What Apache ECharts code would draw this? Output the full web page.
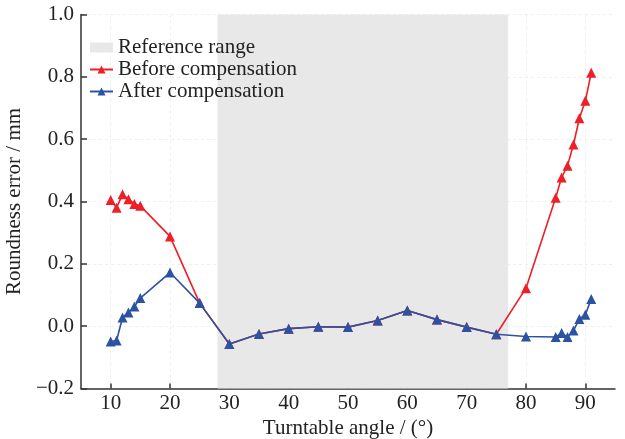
<!DOCTYPE html>
<html>
<head>
<meta charset="utf-8">
<script src="https://cdn.jsdelivr.net/npm/echarts@6/dist/echarts.min.js"></script>
<style>html,body{margin:0;padding:0;background:#fff}#c{width:625px;height:439px}</style>
</head>
<body>
<div id="c"></div>
<script>
const beforeX = [10, 11, 12, 13, 14, 15, 20, 25, 30, 35, 40, 45, 50, 55, 60, 65, 70, 75, 80, 85, 86, 87, 88, 89, 90, 91];
const beforeY = [0.405, 0.380, 0.423, 0.407, 0.392, 0.386, 0.288, 0.074, -0.057, -0.025, -0.008, -0.002, -0.003, 0.018, 0.050, 0.021, -0.003, -0.026, 0.122, 0.412, 0.477, 0.515, 0.583, 0.667, 0.723, 0.813];
const afterX = [10, 11, 12, 13, 14, 15, 20, 25, 30, 35, 40, 45, 50, 55, 60, 65, 70, 75, 80, 85, 86, 87, 88, 89, 90, 91];
const afterY = [-0.049, -0.046, 0.028, 0.044, 0.063, 0.090, 0.172, 0.074, -0.057, -0.025, -0.008, -0.002, -0.003, 0.018, 0.050, 0.021, -0.003, -0.026, -0.033, -0.035, -0.022, -0.035, -0.014, 0.023, 0.037, 0.087];
const refRange = [28, 77];
const xTicks = [10, 20, 30, 40, 50, 60, 70, 80, 90];
const seriesNames = ['Reference range', 'Before compensation', 'After compensation'];
const xName = 'Turntable angle / (°)';
const yName = 'Roundness error / mm';

const FONT = 'Liberation Serif';
const RED = '#ee1f26';
const BLUE = '#2b52a3';
const GRAY = '#e8e8e8';

const chart = echarts.init(document.getElementById('c'), null, {renderer: 'canvas'});
const pair = (xs, ys) => xs.map((x, i) => [x, ys[i]]);

chart.setOption({
  animation: false,
  backgroundColor: '#fff',
  grid: {left: 81, right: 10, top: 14.5, bottom: 50.5, containLabel: false, outerBoundsMode: 'none'},
  legend: {
    orient: 'vertical',
    left: 84,
    top: 32,
    padding: 5,
    itemWidth: 23,
    itemHeight: 10,
    itemGap: 1,
    textStyle: {fontFamily: FONT, fontSize: 21, color: '#222', lineHeight: 21, padding: [0, 0, 0, 0]},
    data: [
      {name: seriesNames[0], icon: 'rect', itemStyle: {color: GRAY}},
      {name: seriesNames[1]},
      {name: seriesNames[2]}
    ]
  },
  xAxis: {
    type: 'value',
    min: 5,
    max: 95,
    name: xName,
    nameLocation: 'middle',
    nameGap: 29,
    nameTextStyle: {fontFamily: FONT, fontSize: 21, color: '#222'},
    axisLine: {show: true, onZero: false, lineStyle: {color: '#333', width: 1.5}},
    axisTick: {show: true, inside: true, length: 5, customValues: xTicks, lineStyle: {color: '#333', width: 1.5}},
    axisLabel: {fontFamily: FONT, fontSize: 21, color: '#222', margin: 4, customValues: xTicks},
    splitLine: {show: true, lineStyle: {color: '#efefef', type: [3, 3], width: 1}}
  },
  yAxis: {
    type: 'value',
    min: -0.2,
    max: 1.0,
    interval: 0.2,
    name: yName,
    nameLocation: 'middle',
    nameGap: 47,
    nameTextStyle: {fontFamily: FONT, fontSize: 21, color: '#222'},
    axisLine: {show: true, onZero: false, lineStyle: {color: '#333', width: 1.5}},
    axisTick: {show: true, inside: true, length: 6, lineStyle: {color: '#333', width: 1.5}},
    axisLabel: {fontFamily: FONT, fontSize: 21, color: '#222', margin: 7,
      formatter: v => v.toFixed(1).replace('-', '\u2212')},
    splitLine: {show: true, lineStyle: {color: '#efefef', type: [3, 3], width: 1}}
  },
  series: [
    {
      name: seriesNames[0],
      type: 'line',
      data: [],
      color: GRAY,
      markArea: {
        silent: true,
        itemStyle: {color: GRAY},
        data: [[{xAxis: refRange[0]}, {xAxis: refRange[1]}]]
      }
    },
    {
      name: seriesNames[1],
      type: 'line',
      data: pair(beforeX, beforeY),
      color: RED,
      symbol: 'triangle',
      symbolSize: 10,
      lineStyle: {width: 1.6, color: RED},
      itemStyle: {color: RED},
      z: 3
    },
    {
      name: seriesNames[2],
      type: 'line',
      data: pair(afterX, afterY),
      color: BLUE,
      symbol: 'triangle',
      symbolSize: 10,
      lineStyle: {width: 1.6, color: BLUE},
      itemStyle: {color: BLUE},
      z: 4
    }
  ]
});
</script>
</body>
</html>
